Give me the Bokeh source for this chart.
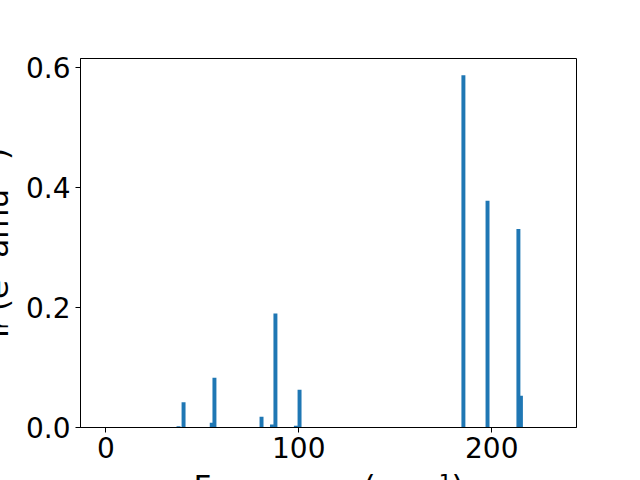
from bokeh.plotting import figure
from bokeh.models import ColumnDataSource, FixedTicker, Range1d
from bokeh.embed import file_html
from bokeh.resources import INLINE

# Data (frequency in cm^-1, intensity)
freqs = [37.7, 40.3, 54.9, 56.3, 80.7, 86.1, 87.9, 98.5, 100.4, 185.3, 197.8, 213.8, 215.1]
intensities = [0.002, 0.042, 0.008, 0.083, 0.018, 0.005, 0.190, 0.003, 0.063, 0.587, 0.378, 0.331, 0.053]

x_ticks = [0, 100, 200]
y_ticks = [0.0, 0.2, 0.4, 0.6]
y_tick_labels = ["0.0", "0.2", "0.4", "0.6"]

x_label = "Frequency (cm\u207b\u00b9)"
y_label = "I\u1d63 (e\u00b2 amu\u207b\u00b9)"

FONT = "DejaVu Sans"
TICK_SIZE = "28px"
LABEL_SIZE = "31px"

SHIFT = 40  # part of the left border pushed out of the window, as in the reference

p = figure(frame_width=496, frame_height=369, output_backend="svg", toolbar_location=None,
           x_range=Range1d(-13.1, 243.9), y_range=Range1d(0, 0.615),
           min_border_left=80 + SHIFT, min_border_right=64, min_border_top=58, min_border_bottom=10,
           x_axis_label=x_label, y_axis_label=y_label)
p.styles = {"margin-left": f"-{SHIFT}px"}

src = ColumnDataSource(dict(x=freqs, top=intensities))
p.vbar(x="x", top="top", bottom=0, width=2.05, source=src, fill_color="#1f77b4", line_color=None)

p.xgrid.visible = False
p.ygrid.visible = False
p.outline_line_color = "black"
p.outline_line_width = 1
p.background_fill_color = "white"
p.border_fill_color = "white"

p.xaxis.ticker = FixedTicker(ticks=x_ticks)
p.yaxis.ticker = FixedTicker(ticks=y_ticks)
p.yaxis.major_label_overrides = {t: s for t, s in zip(y_ticks, y_tick_labels)}
for ax in (p.xaxis[0], p.yaxis[0]):
    ax.major_label_text_font = FONT
    ax.major_label_text_font_size = TICK_SIZE
    ax.major_label_text_color = "black"
    ax.axis_label_text_font = FONT
    ax.axis_label_text_font_size = LABEL_SIZE
    ax.axis_label_text_font_style = "normal"
    ax.axis_label_text_color = "black"
    ax.major_tick_out = 5
    ax.major_tick_in = 0
    ax.minor_tick_out = 0
    ax.minor_tick_in = 0
    ax.major_tick_line_color = "black"
    ax.axis_line_color = "black"
p.xaxis.major_label_standoff = 4
p.yaxis.major_label_standoff = 5
p.xaxis.axis_label_standoff = 7
p.yaxis.axis_label_standoff = 8

open("out.html", "w").write(file_html(p, INLINE))
